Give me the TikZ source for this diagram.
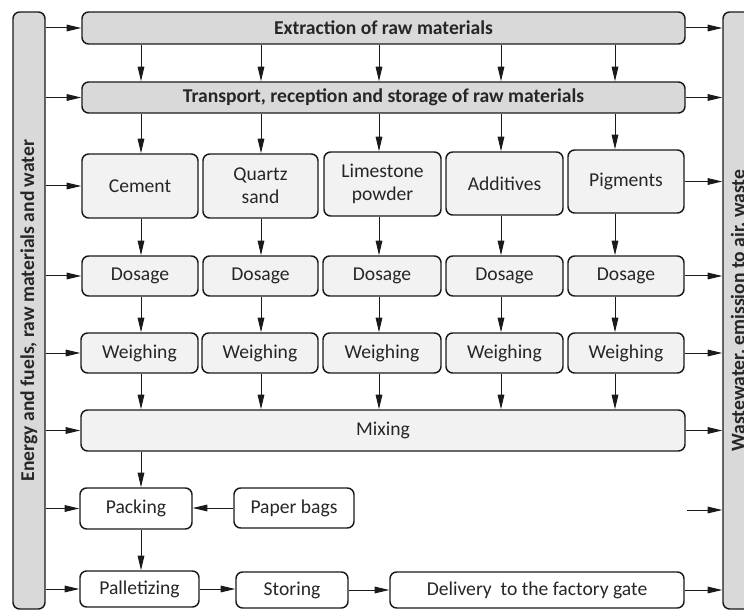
\documentclass[tikz,border=0pt]{standalone}
\usepackage{fontspec}
\setmainfont{Carlito}
\usetikzlibrary{arrows.meta}
\definecolor{dk}{HTML}{D9D9D9}
\definecolor{lt}{HTML}{F2F2F2}
\definecolor{ln}{HTML}{1A1A1A}
\definecolor{tx}{HTML}{262626}
% box from (x1,y1) to (x2,y2) in pixel units
\newcommand\pxbox[7]{\node[#1, minimum width={(#5-#3)*0.75pt}, minimum height={(#6-#4)*0.75pt}] (#2) at ({(#3+#5)/2},{(#4+#6)/2}) {#7};}
\begin{document}
\begin{tikzpicture}[x=0.75pt,y=-0.75pt,
  base/.style={draw=ln, line width=1.1pt, rounded corners=5pt, inner sep=0pt, text=tx, font=\fontsize{14.7}{17.5}\selectfont, align=center},
  darkbox/.style={base, fill=dk, font=\fontsize{14.7}{17.5}\selectfont\bfseries},
  litbox/.style={base, fill=lt},
  whitebox/.style={base, fill=white},
  sidelabel/.style={rotate=90, text=tx, font=\fontsize{14.7}{17.5}\selectfont\bfseries, inner sep=0pt},
  arr/.style={draw=ln, line width=0.75pt, -{Triangle[length=11pt,width=5pt]}},
]
\useasboundingbox (0,0) rectangle (744,610);
\clip (0,0) rectangle (744,610);

% side bars
\pxbox{darkbox}{L}{13}{12}{45}{609}{}
\node[sidelabel] (Ltxt) at (L.center) {Energy and fuels, raw materials and water};
\pxbox{darkbox}{R}{723}{12}{755}{609}{}
\node[sidelabel] (Rtxt) at (R.center) {Wastewater, emission to air, waste};

% top boxes
\pxbox{darkbox}{ext}{82}{12}{685}{44}{Extraction of raw materials}
\pxbox{darkbox}{tr}{82}{82}{685}{113}{Transport, reception and storage of raw materials}

% materials
\pxbox{litbox}{m1}{82}{154}{198}{218}{Cement}
\pxbox{litbox}{m2}{203}{154}{318}{218}{Quartz\\sand}
\pxbox{litbox}{m3}{324}{152}{441}{216}{Limestone\\powder}
\pxbox{litbox}{m4}{446}{152}{563}{215}{Additives}
\pxbox{litbox}{m5}{568}{150}{684}{213}{Pigments}

% dosage
\pxbox{litbox}{d1}{82}{256}{198}{296}{Dosage}
\pxbox{litbox}{d2}{203}{256}{318}{296}{Dosage}
\pxbox{litbox}{d3}{323}{256}{441}{296}{Dosage}
\pxbox{litbox}{d4}{446}{256}{563}{296}{Dosage}
\pxbox{litbox}{d5}{568}{256}{684}{296}{Dosage}

% weighing
\pxbox{litbox}{w1}{81}{333}{198}{373}{Weighing}
\pxbox{litbox}{w2}{202}{333}{318}{373}{Weighing}
\pxbox{litbox}{w3}{323}{333}{441}{373}{Weighing}
\pxbox{litbox}{w4}{446}{333}{563}{373}{Weighing}
\pxbox{litbox}{w5}{568}{333}{684}{373}{Weighing}

% mixing
\pxbox{litbox}{mx}{81}{410}{685}{451}{Mixing}

% bottom
\pxbox{whitebox}{pk}{80}{488}{192}{529}{Packing}
\pxbox{whitebox}{pb}{234}{488}{354}{528}{Paper bags}
\pxbox{whitebox}{pl}{80}{571}{199}{607}{Palletizing}
\pxbox{whitebox}{st}{236}{572}{348}{608}{Storing}
\pxbox{whitebox}{dl}{390}{572}{684}{608}{Delivery~ to the factory gate}

% column coordinates
\coordinate (c1) at (141,0);
\coordinate (c2) at (261,0);
\coordinate (c3) at (379,0);
\coordinate (c4) at (501,0);
\coordinate (c5) at (615,0);
\coordinate (fr) at (687,510);

% vertical arrows
\foreach \c in {c1,c2,c3,c4,c5}
  \draw[arr] (ext.south -| \c) -- (tr.north -| \c);
\foreach \c/\m in {c1/m1,c2/m2,c3/m3,c4/m4,c5/m5}
  \draw[arr] (tr.south -| \c) -- (\m.north -| \c);
\foreach \c/\m/\d in {c1/m1/d1,c2/m2/d2,c3/m3/d3,c4/m4/d4,c5/m5/d5}
  \draw[arr] (\m.south -| \c) -- (\d.north -| \c);
\foreach \c/\d/\w in {c1/d1/w1,c2/d2/w2,c3/d3/w3,c4/d4/w4,c5/d5/w5}
  \draw[arr] (\d.south -| \c) -- (\w.north -| \c);
\foreach \c/\w in {c1/w1,c2/w2,c3/w3,c4/w4,c5/w5}
  \draw[arr] (\w.south -| \c) -- (mx.north -| \c);
\draw[arr] (mx.south -| c1) -- (pk.north -| c1);
\draw[arr] (pk.south -| c1) -- (pl.north -| c1);

% horizontal arrows
\draw[arr] (pb.west) -- (pk.east |- pb.west);
\draw[arr] (pl.east) -- (st.west |- pl.east);
\draw[arr] (st.east) -- (dl.west |- st.east);

% from left bar
\foreach \n in {ext,tr,m1,d1,w1,mx,pk,pl}
  \draw[arr] (L.east |- \n.west) -- (\n.west);

% to right bar
\foreach \n in {ext,tr,m5,d5,w5,mx,dl}
  \draw[arr] (\n.east) -- (R.west |- \n.east);
\draw[arr] (fr) -- (R.west |- fr);
\end{tikzpicture}
\end{document}
